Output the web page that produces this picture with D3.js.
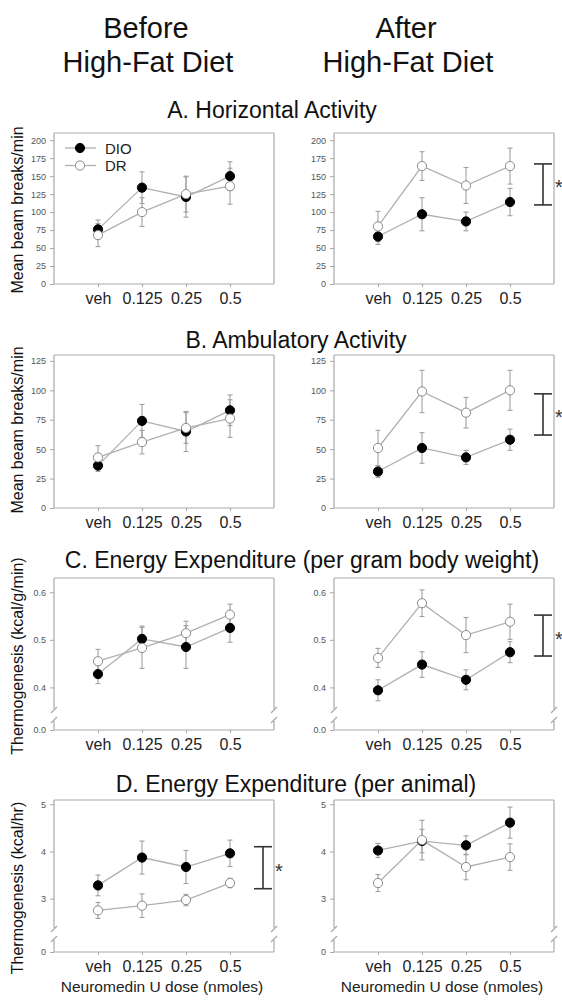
<!DOCTYPE html>
<html><head><meta charset="utf-8">
<script src="https://cdn.jsdelivr.net/npm/d3@7"></script>
<style>
body{margin:0;background:#fff;}
svg{display:block;font-family:"Liberation Sans",Arial,sans-serif;}
</style></head>
<body>
<script>
// ---------- DATA ----------
const doses = ["veh", "0.125", "0.25", "0.5"];
const seriesNames = ["DIO", "DR"];

// A. Horizontal Activity
const aBeforeDIO = [76, 134, 121, 150], aBeforeDIOerr = [13, 22, 28, 20];
const aBeforeDR  = [68, 100, 125, 136], aBeforeDRerr  = [16, 20, 25, 25];
const aAfterDIO  = [66, 97, 87, 114],   aAfterDIOerr  = [11, 23, 13, 19];
const aAfterDR   = [80, 164, 137, 164], aAfterDRerr   = [21, 20, 25, 25];
const aTicks = [0, 25, 50, 75, 100, 125, 150, 175, 200];

// B. Ambulatory Activity
const bBeforeDIO = [36, 74, 65, 83],  bBeforeDIOerr = [5, 14, 17, 13];
const bBeforeDR  = [43, 56, 68, 76],  bBeforeDRerr  = [10, 10, 13, 16];
const bAfterDIO  = [31, 51, 43, 58],  bAfterDIOerr  = [5, 13, 6, 9];
const bAfterDR   = [51, 99, 81, 100], bAfterDRerr   = [15, 18, 13, 17];
const bTicks = [0, 25, 50, 75, 100, 125];

// C. Energy Expenditure (per gram body weight)
const cBeforeDIO = [0.428, 0.502, 0.485, 0.525], cBeforeDIOerr = [0.020, 0.027, 0.045, 0.030];
const cBeforeDR  = [0.455, 0.483, 0.514, 0.553], cBeforeDRerr  = [0.025, 0.043, 0.025, 0.022];
const cAfterDIO  = [0.394, 0.448, 0.416, 0.474], cAfterDIOerr  = [0.022, 0.027, 0.021, 0.022];
const cAfterDR   = [0.462, 0.577, 0.510, 0.538], cAfterDRerr   = [0.020, 0.028, 0.037, 0.037];
const cTicks = [0.0, 0.4, 0.5, 0.6];

// D. Energy Expenditure (per animal)
const dBeforeDIO = [3.28, 3.87, 3.67, 3.96], dBeforeDIOerr = [0.22, 0.35, 0.35, 0.28];
const dBeforeDR  = [2.75, 2.85, 2.97, 3.33], dBeforeDRerr  = [0.17, 0.25, 0.12, 0.10];
const dAfterDIO  = [4.02, 4.22, 4.13, 4.61], dAfterDIOerr  = [0.15, 0.25, 0.20, 0.33];
const dAfterDR   = [3.33, 4.24, 3.67, 3.88], dAfterDRerr   = [0.18, 0.42, 0.27, 0.28];
const dTicks = [0, 3, 4, 5];

// significance brackets [low, high]
const aAfterBracket  = [110, 167];
const bAfterBracket  = [62, 97];
const cAfterBracket  = [0.466, 0.552];
const dBeforeBracket = [3.21, 4.10];

const columnTitles = [["Before", "High-Fat Diet"], ["After", "High-Fat Diet"]];
const rowTitles = ["A. Horizontal Activity", "B. Ambulatory Activity",
  "C. Energy Expenditure (per gram body weight)", "D. Energy Expenditure (per animal)"];
const yLabels = ["Mean beam breaks/min", "Mean beam breaks/min",
  "Thermogenesis (kcal/g/min)", "Thermogenesis (kcal/hr)"];
const xLabel = "Neuromedin U dose (nmoles)";

// ---------- LAYOUT ----------
const W = 562, H = 1007;
const svg = d3.select("body").append("svg").attr("width", W).attr("height", H);
const frameColor = "#a9a9a9", lineColor = "#b0b0b0", errColor = "#a0a0a0";

const colX = [54, 334], plotW = 220;
const rows = [
  {domain: [0, 210], range: [284, 133], ticks: aTicks, fmt: d3.format("d"), brk: null, title: [272, 118], ylab: 210},
  {domain: [0, 130], range: [508, 355], ticks: bTicks, fmt: d3.format("d"), brk: null, title: [296, 348], ylab: 430},
  {domain: [0, 0.342, 0.63], range: [730, 715, 578], ticks: cTicks, fmt: d3.format(".1f"), brk: 715, title: [302, 568], ylab: 656},
  {domain: [0, 2.25, 5.09], range: [952, 934, 800], ticks: dTicks, fmt: d3.format("d"), brk: 934, title: [296, 792], ylab: 888}
];

const panels = [
  [{dio: aBeforeDIO, dioE: aBeforeDIOerr, dr: aBeforeDR, drE: aBeforeDRerr, bracket: null, legend: true},
   {dio: aAfterDIO, dioE: aAfterDIOerr, dr: aAfterDR, drE: aAfterDRerr, bracket: aAfterBracket}],
  [{dio: bBeforeDIO, dioE: bBeforeDIOerr, dr: bBeforeDR, drE: bBeforeDRerr, bracket: null},
   {dio: bAfterDIO, dioE: bAfterDIOerr, dr: bAfterDR, drE: bAfterDRerr, bracket: bAfterBracket}],
  [{dio: cBeforeDIO, dioE: cBeforeDIOerr, dr: cBeforeDR, drE: cBeforeDRerr, bracket: null},
   {dio: cAfterDIO, dioE: cAfterDIOerr, dr: cAfterDR, drE: cAfterDRerr, bracket: cAfterBracket}],
  [{dio: dBeforeDIO, dioE: dBeforeDIOerr, dr: dBeforeDR, drE: dBeforeDRerr, bracket: dBeforeBracket},
   {dio: dAfterDIO, dioE: dAfterDIOerr, dr: dAfterDR, drE: dAfterDRerr, bracket: null}]
];

// column titles
columnTitles.forEach((t, i) => {
  const cx = [146, 406][i];
  const g = svg.append("text").attr("text-anchor", "middle").attr("font-size", 29).attr("fill", "#111");
  g.append("tspan").attr("x", cx).attr("y", 38).text(t[0]);
  g.append("tspan").attr("x", cx + 2).attr("y", 72).text(t[1]);
});

rows.forEach((row, ri) => {
  // row title
  svg.append("text").attr("x", row.title[0]).attr("y", row.title[1])
    .attr("text-anchor", "middle").attr("font-size", 23).attr("fill", "#111").text(rowTitles[ri]);
  // y label
  svg.append("text").attr("transform", `translate(19,${row.ylab}) rotate(-90)`)
    .attr("text-anchor", "middle").attr("dominant-baseline", "middle")
    .attr("font-size", 16).attr("fill", "#111").text(yLabels[ri]);
  if (ri === 3) {
    [0, 1].forEach(ci => {
      svg.append("text").attr("x", colX[ci] + 108).attr("y", 992)
        .attr("text-anchor", "middle").attr("font-size", 15.5).attr("fill", "#222").text(xLabel);
    });
  }

  [0, 1].forEach(ci => {
    const p = panels[ri][ci];
    const x0 = colX[ci];
    const x = d3.scaleLinear().domain([0, 5]).range([x0, x0 + plotW]);
    const y = d3.scaleLinear().domain(row.domain).range(row.range);
    const g = svg.append("g");
    const yBot = y(0), yTop = row.range[row.range.length - 1];
    const xL = x(0), xR = x(5);

    // frame
    const frame = g.append("g").attr("stroke", frameColor).attr("stroke-width", 1.2).attr("fill", "none");
    frame.append("line").attr("x1", xL).attr("x2", xR).attr("y1", yTop).attr("y2", yTop);
    frame.append("line").attr("x1", xL).attr("x2", xR).attr("y1", yBot).attr("y2", yBot);
    [xL, xR].forEach(xx => {
      if (row.brk === null) {
        frame.append("line").attr("x1", xx).attr("x2", xx).attr("y1", yTop).attr("y2", yBot);
      } else {
        const b = row.brk;
        frame.append("line").attr("x1", xx).attr("x2", xx).attr("y1", yTop).attr("y2", b - 6);
        frame.append("line").attr("x1", xx).attr("x2", xx).attr("y1", b + 6).attr("y2", yBot);
        [-5, 5].forEach(off => {
          frame.append("line").attr("x1", xx - 3).attr("x2", xx + 3)
            .attr("y1", b + off + 3).attr("y2", b + off - 3);
        });
      }
    });

    // y axis ticks
    const yAxis = d3.axisLeft(y).tickValues(row.ticks).tickFormat(row.fmt).tickSize(4).tickPadding(4);
    const ya = g.append("g").attr("transform", `translate(${xL},0)`).call(yAxis);
    ya.select(".domain").remove();
    ya.selectAll(".tick line").attr("stroke", frameColor);
    ya.selectAll(".tick text").attr("font-size", 9).attr("fill", "#555")
      .attr("font-family", "\"Liberation Sans\",Arial,sans-serif");

    // x axis ticks
    const xAxis = d3.axisBottom(x).tickValues([1, 2, 3, 4]).tickFormat((d, i) => doses[i]).tickSize(3).tickPadding(6);
    const xa = g.append("g").attr("transform", `translate(0,${yBot})`).call(xAxis);
    xa.select(".domain").remove();
    xa.selectAll(".tick line").attr("stroke", frameColor);
    xa.selectAll(".tick text").attr("font-size", 16).attr("fill", "#222")
      .attr("font-family", "\"Liberation Sans\",Arial,sans-serif");

    const series = [
      {vals: p.dio, errs: p.dioE, fill: "#000", stroke: "#000"},
      {vals: p.dr, errs: p.drE, fill: "#fff", stroke: "#8a8a8a"}
    ];
    // lines
    series.forEach(s => {
      g.append("path").datum(s.vals)
        .attr("d", d3.line().x((d, i) => x(i + 1)).y(d => y(d)))
        .attr("fill", "none").attr("stroke", lineColor).attr("stroke-width", 1.3);
    });
    // error bars
    series.forEach(s => {
      s.vals.forEach((v, i) => {
        const cx = x(i + 1);
        const eg = g.append("g").attr("stroke", errColor).attr("stroke-width", 1.1);
        eg.append("line").attr("x1", cx).attr("x2", cx).attr("y1", y(v - s.errs[i])).attr("y2", y(v + s.errs[i]));
        [v - s.errs[i], v + s.errs[i]].forEach(e => {
          eg.append("line").attr("x1", cx - 2.5).attr("x2", cx + 2.5).attr("y1", y(e)).attr("y2", y(e));
        });
      });
    });
    // markers
    series.forEach(s => {
      g.selectAll(null).data(s.vals).enter().append("circle")
        .attr("cx", (d, i) => x(i + 1)).attr("cy", d => y(d)).attr("r", 4.6)
        .attr("fill", s.fill).attr("stroke", s.stroke).attr("stroke-width", 1);
    });

    // significance bracket
    if (p.bracket) {
      const bx = x(4.75);
      const bg = g.append("g").attr("stroke", "#333").attr("stroke-width", 1.6);
      bg.append("line").attr("x1", bx).attr("x2", bx).attr("y1", y(p.bracket[0])).attr("y2", y(p.bracket[1]));
      p.bracket.forEach(v => {
        bg.append("line").attr("x1", bx - 9).attr("x2", bx + 9).attr("y1", y(v)).attr("y2", y(v));
      });
      g.append("text").attr("x", bx + 12).attr("y", (y(p.bracket[0]) + y(p.bracket[1])) / 2 + 10)
        .attr("font-size", 20).attr("fill", "#333").text("*");
    }

    // legend
    if (p.legend) {
      const lg = g.append("g");
      series.forEach((s, k) => {
        const ly = 148 + k * 17.5;
        lg.append("line").attr("x1", 65).attr("x2", 96).attr("y1", ly).attr("y2", ly)
          .attr("stroke", lineColor).attr("stroke-width", 1.3);
        lg.append("circle").attr("cx", 80).attr("cy", ly).attr("r", 4.6)
          .attr("fill", s.fill).attr("stroke", s.stroke).attr("stroke-width", 1);
        lg.append("text").attr("x", 105).attr("y", ly + 5.5).attr("font-size", 15)
          .attr("fill", "#222").text(seriesNames[k]);
      });
    }
  });
});
</script>
</body></html>
